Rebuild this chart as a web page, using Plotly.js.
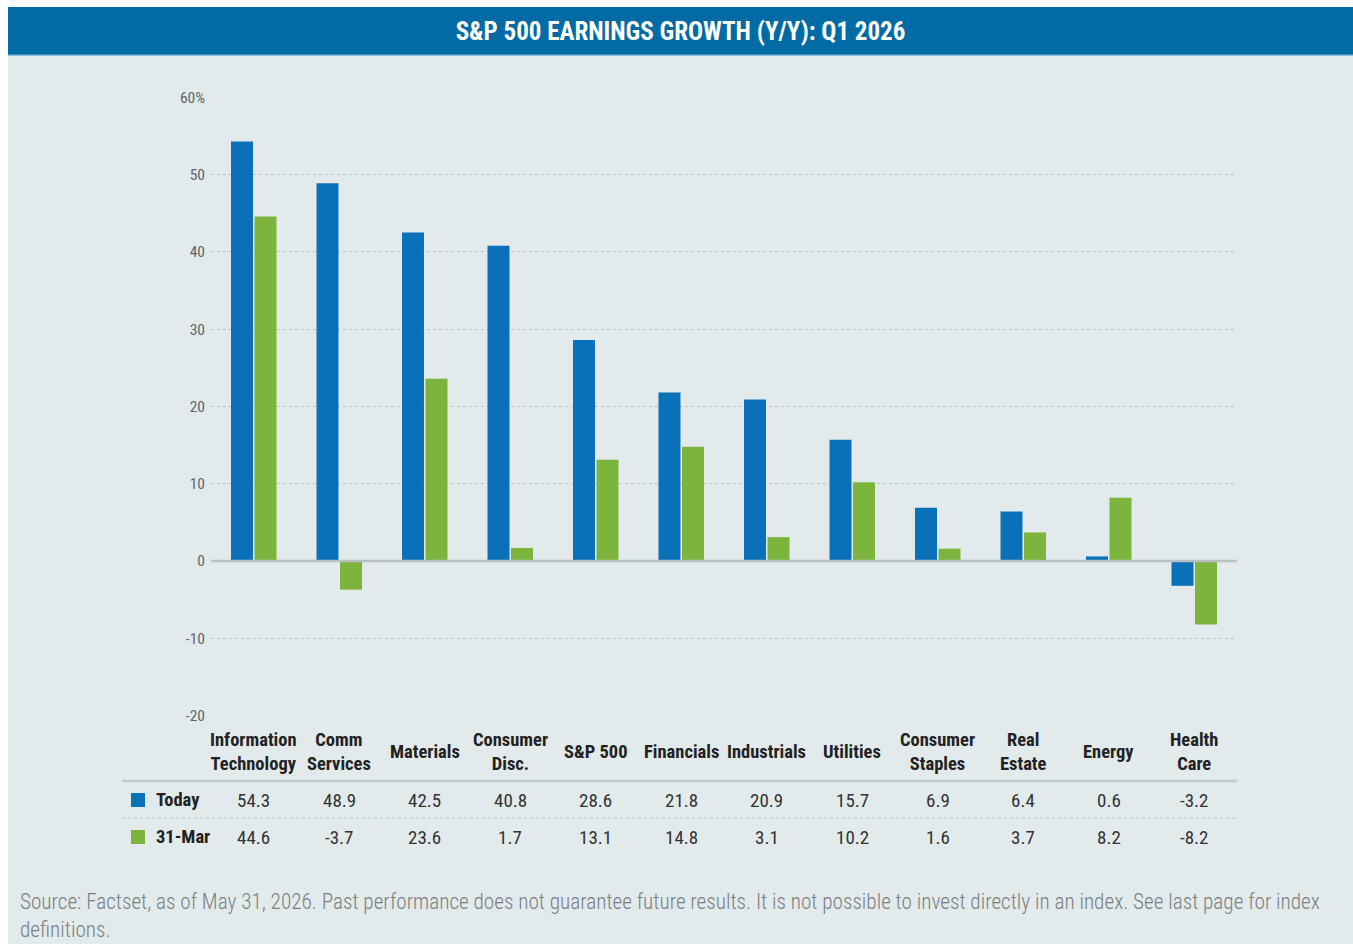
<!DOCTYPE html>
<html>
<head>
<meta charset="utf-8">
<script src="https://cdn.plot.ly/plotly-3.0.1.min.js"></script>
<style>
  body { margin: 0; background: #ffffff; }
  #chart { position: absolute; left: 8px; top: 7px; width: 1345px; height: 937px; }
</style>
</head>
<body>
<div id="chart"></div>
<script>
// data
var categories = ["Information<br>Technology", "Comm<br>Services", "Materials", "Consumer<br>Disc.", "S&P 500",
                  "Financials", "Industrials", "Utilities", "Consumer<br>Staples", "Real<br>Estate", "Energy", "Health<br>Care"];
var today = [54.3, 48.9, 42.5, 40.8, 28.6, 21.8, 20.9, 15.7, 6.9, 6.4, 0.6, -3.2];
var march31 = [44.6, -3.7, 23.6, 1.7, 13.1, 14.8, 3.1, 10.2, 1.6, 3.7, 8.2, -8.2];
var seriesNames = ["Today", "31-Mar"];
var yTickVals = [-20, -10, 0, 10, 20, 30, 40, 50, 60];
var yTickText = ["-20", "-10", "0", "10", "20", "30", "40", "50", "60%"];

var titleText = "S&P 500 EARNINGS GROWTH (Y/Y): Q1 2026";
var sourceText = "Source: Factset, as of May 31, 2026. Past performance does not guarantee future results. It is not possible to invest directly in an index. See last page for index<br>definitions.";

var colors = ["#0a71b9", "#7db43d"];
var FONT = '"Roboto Condensed", "DejaVu Sans Condensed", "Liberation Sans Narrow", sans-serif';

// figure geometry (pixels inside the div)
var W = 1345, H = 937;
var M = { l: 203, r: 116, t: 90, b: 228 };
var plotW = W - M.l - M.r, plotH = H - M.t - M.b;
function px(x) { return (x - M.l) / plotW; }
function py(y) { return 1 - (y - M.t) / plotH; }

var series = [today, march31];
var traces = series.map(function (vals, i) {
  return {
    type: 'bar',
    x: categories,
    y: vals,
    name: seriesNames[i],
    marker: { color: colors[i] },
    hoverinfo: 'x+y'
  };
});

var annotations = [];
// category labels under the plot
categories.forEach(function (c) {
  annotations.push({
    x: c, xref: 'x', y: py(744.5), yref: 'paper',
    text: '<b>' + c + '</b>', showarrow: false,
    xanchor: 'center', yanchor: 'middle', align: 'center',
    font: { family: FONT, size: 18.5, color: '#222222' }
  });
});
// table rows
var rowY = [793, 830];
series.forEach(function (vals, i) {
  annotations.push({
    x: px(146), xref: 'paper', y: py(rowY[i]), yref: 'paper',
    text: '<b>' + seriesNames[i] + '</b>', showarrow: false,
    xanchor: 'left', yanchor: 'middle',
    font: { family: FONT, size: 18.5, color: '#222222' }
  });
  vals.forEach(function (v, j) {
    annotations.push({
      x: categories[j], xref: 'x', y: py(rowY[i]), yref: 'paper',
      text: v.toFixed(1), showarrow: false,
      xanchor: 'center', yanchor: 'middle',
      font: { family: FONT, size: 19, color: '#333333' }
    });
  });
});
// source note
annotations.push({
  x: px(10), xref: 'paper', y: py(909), yref: 'paper',
  text: sourceText, showarrow: false,
  xanchor: 'left', yanchor: 'middle', align: 'left',
  font: { family: FONT, size: 21.2, color: '#7a7f82', weight: 300 }
});

var shapes = [
  // header band
  { type: 'rect', xref: 'paper', yref: 'paper', x0: px(0), x1: px(W), y0: py(0), y1: py(47),
    fillcolor: '#026ba5', line: { width: 0 }, layer: 'below' },
  { type: 'rect', xref: 'paper', yref: 'paper', x0: px(0), x1: px(W), y0: py(47), y1: py(48.5),
    fillcolor: '#3d93c8', line: { width: 0 }, layer: 'below' },
  // zero line
  { type: 'line', xref: 'paper', yref: 'y', x0: 0, x1: 1, y0: 0, y1: 0,
    line: { color: '#b9bfc3', width: 2.5 } },
  // table rules
  { type: 'line', xref: 'paper', yref: 'paper', x0: px(114), x1: 1, y0: py(774), y1: py(774),
    line: { color: '#c5cacd', width: 2.5 } },
  { type: 'line', xref: 'paper', yref: 'paper', x0: px(114), x1: 1, y0: py(811), y1: py(811),
    line: { color: '#c0c4c7', width: 1.2, dash: 'dot' } }
];
// legend squares
rowY.forEach(function (y, i) {
  shapes.push({ type: 'rect', xref: 'paper', yref: 'paper',
    x0: px(123), x1: px(137), y0: py(y - 7), y1: py(y + 7),
    fillcolor: colors[i], line: { width: 0 } });
});

var layout = {
  width: W, height: H,
  margin: M,
  paper_bgcolor: '#e2eaec',
  plot_bgcolor: '#e2eaec',
  showlegend: false,
  barmode: 'group',
  bargap: 0.45,
  bargroupgap: 0.065,
  title: {
    text: '<b>' + titleText + '</b>',
    x: 0.5, xref: 'container', xanchor: 'center',
    y: 1 - 24.5 / H, yref: 'container', yanchor: 'middle',
    font: { family: FONT, size: 25, color: '#ffffff' }
  },
  xaxis: {
    range: [-0.5, categories.length - 0.5],
    showticklabels: false, showgrid: false, zeroline: false, showline: false,
    fixedrange: true
  },
  yaxis: {
    range: [-20.05, 60.05],
    tickvals: yTickVals, ticktext: yTickText,
    showgrid: true, gridcolor: '#bdc2c5', griddash: 'dot', gridwidth: 1,
    zeroline: false, showline: false, ticks: '',
    ticklabelstandoff: 5,
    tickfont: { family: FONT, size: 15.5, color: '#606467' },
    fixedrange: true
  },
  shapes: shapes,
  annotations: annotations
};

Plotly.newPlot('chart', traces, layout, { displayModeBar: false });
</script>
</body>
</html>
